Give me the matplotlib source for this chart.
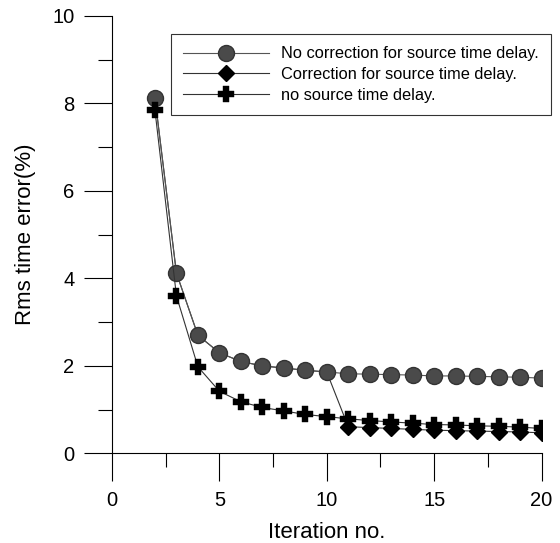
import numpy as np
import matplotlib
matplotlib.use("Agg")
import matplotlib.pyplot as plt
from matplotlib.ticker import MultipleLocator

plt.rcParams['font.family'] = ['Liberation Sans', 'DejaVu Sans']

# Datos
iteraciones = np.arange(2, 21)
sin_correccion = [8.12, 4.12, 2.70, 2.30, 2.10, 2.00, 1.95, 1.90, 1.86,
                  1.82, 1.81, 1.80, 1.79, 1.77, 1.77, 1.76, 1.75, 1.74, 1.72]
con_correccion = [8.12, 4.12, 2.70, 2.30, 2.10, 2.00, 1.95, 1.90, 1.86,
                  0.61, 0.59, 0.57, 0.55, 0.53, 0.52, 0.51, 0.50, 0.49, 0.47]
sin_retraso = [7.84, 3.60, 1.98, 1.42, 1.18, 1.05, 0.97, 0.89, 0.84,
               0.79, 0.75, 0.72, 0.69, 0.66, 0.65, 0.63, 0.62, 0.60, 0.57]

etiquetas = ['No correction for source time delay.',
             'Correction for source time delay.',
             'no source time delay.']

fig = plt.figure(figsize=(5.6, 5.43), dpi=100)
ax = fig.add_axes([0.2, 0.165, 0.767, 0.806])

# orden de dibujo: rombos debajo de los circulos
l2, = ax.plot(iteraciones, con_correccion, '-', color='#333333', lw=0.8,
              marker='D', markersize=8.5, markerfacecolor='black',
              markeredgecolor='black', zorder=2)
l1, = ax.plot(iteraciones, sin_correccion, '-', color='#555555', lw=0.8,
              marker='o', markersize=11.5, markerfacecolor='#4a4a4a',
              markeredgecolor='#333333', zorder=3)
l3, = ax.plot(iteraciones, sin_retraso, '-', color='#333333', lw=0.8,
              marker='P', markersize=11, markerfacecolor='black',
              markeredgecolor='black', markeredgewidth=0.3, zorder=4)

ax.set_xlim(0, 20)
ax.set_ylim(0, 10)
ax.xaxis.set_major_locator(MultipleLocator(5))
ax.xaxis.set_minor_locator(MultipleLocator(2.5))
ax.yaxis.set_major_locator(MultipleLocator(2))
ax.yaxis.set_minor_locator(MultipleLocator(1))
ax.tick_params(which='major', direction='out', length=20, width=0.8,
               labelsize=14.5, pad=7)
ax.tick_params(which='minor', direction='out', length=10, width=0.8)

for s in ['top', 'right']:
    ax.spines[s].set_visible(False)
for s in ['left', 'bottom']:
    ax.spines[s].set_linewidth(0.8)

ax.set_xlabel('Iteration no.', fontsize=16, labelpad=9)
ax.set_ylabel('Rms time error(%)', fontsize=16, labelpad=12)

leg = fig.legend([l1, l2, l3], etiquetas, loc='upper left',
                 bbox_to_anchor=(171 / 560, 1 - 34 / 543),
                 fontsize=11.8, numpoints=1, handlelength=5.2,
                 handletextpad=0.75, labelspacing=0.35, borderpad=0.75,
                 fancybox=False, frameon=True, borderaxespad=0)
leg.get_frame().set_edgecolor('black')
leg.get_frame().set_linewidth(0.8)

plt.savefig('out.png', dpi=100)
